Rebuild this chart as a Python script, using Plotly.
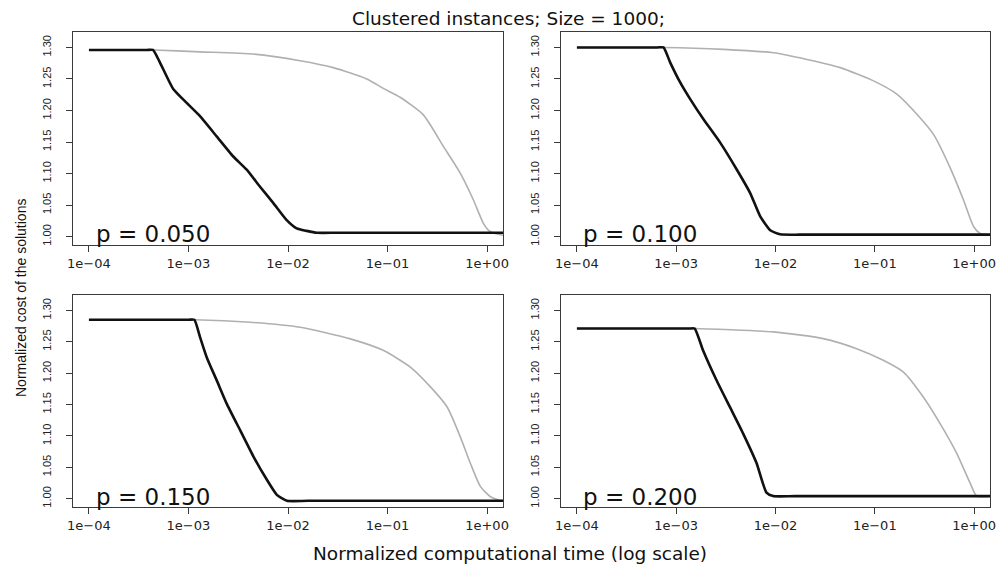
import numpy as np
import plotly.graph_objects as go

# ---------------- data ----------------
title_text = "Clustered instances; Size = 1000;"
x_title = "Normalized computational time (log scale)"
y_title = "Normalized cost of the solutions"
panel_labels = ["p = 0.050", "p = 0.100", "p = 0.150", "p = 0.200"]

x_tick_vals = [1e-4, 1e-3, 1e-2, 1e-1, 1e0]
x_tick_text = ["1e\u221204", "1e\u221203", "1e\u221202", "1e\u221201", "1e+00"]
y_tick_vals = [1.00, 1.05, 1.10, 1.15, 1.20, 1.25, 1.30]
y_tick_text = ["1.00", "1.05", "1.10", "1.15", "1.20", "1.25", "1.30"]

# log10(normalized time) and normalized cost, per panel
p050_black_logt = [-4.0, -3.42, -3.357, -3.286, -3.153, -3.018, -2.884, -2.717, -2.55, -2.415, -2.281, -2.147, -2.013, -1.913, -1.812, -1.712, -1.5, 0.16]
p050_black_cost = [1.296, 1.296, 1.296, 1.276, 1.234, 1.212, 1.191, 1.159, 1.127, 1.106, 1.079, 1.053, 1.026, 1.013, 1.009, 1.006, 1.006, 1.006]
p050_gray_logt = [-4.0, -3.42, -3.357, -2.884, -2.349, -1.879, -1.545, -1.209, -1.042, -0.874, -0.640, -0.439, -0.271, -0.137, -0.037, 0.03, 0.16]
p050_gray_cost = [1.296, 1.296, 1.296, 1.293, 1.2895, 1.279, 1.268, 1.250, 1.235, 1.221, 1.193, 1.143, 1.101, 1.058, 1.021, 1.008, 1.002]

p100_black_logt = [-4.0, -3.19, -3.128, -3.060, -2.960, -2.859, -2.725, -2.557, -2.389, -2.255, -2.154, -2.053, -1.953, -1.75, 0.16]
p100_black_cost = [1.300, 1.300, 1.300, 1.276, 1.2445, 1.218, 1.186, 1.149, 1.106, 1.069, 1.032, 1.010, 1.0035, 1.003, 1.003]
p100_gray_logt = [-4.0, -3.19, -3.128, -2.524, -2.02, -1.684, -1.348, -1.013, -0.778, -0.576, -0.409, -0.241, -0.107, -0.006, 0.061, 0.16]
p100_gray_cost = [1.300, 1.300, 1.300, 1.297, 1.2915, 1.281, 1.268, 1.247, 1.226, 1.194, 1.162, 1.109, 1.058, 1.016, 1.005, 1.003]

p150_black_logt = [-4.0, -3.0, -2.941, -2.883, -2.816, -2.715, -2.615, -2.481, -2.347, -2.212, -2.112, -2.011, -1.8, 0.16]
p150_black_cost = [1.285, 1.285, 1.285, 1.257, 1.225, 1.188, 1.151, 1.109, 1.067, 1.030, 1.006, 0.9965, 0.9965, 0.9965]
p150_gray_logt = [-4.0, -3.0, -2.941, -2.38, -1.877, -1.374, -1.039, -0.771, -0.569, -0.401, -0.268, -0.167, -0.066, 0.034, 0.135, 0.16]
p150_gray_cost = [1.285, 1.285, 1.285, 1.281, 1.273, 1.2546, 1.236, 1.2095, 1.178, 1.146, 1.098, 1.056, 1.019, 1.003, 0.997, 0.997]

p200_black_logt = [-4.0, -2.87, -2.814, -2.730, -2.595, -2.461, -2.327, -2.192, -2.091, -2.024, -1.8, 0.16]
p200_black_cost = [1.271, 1.271, 1.271, 1.2365, 1.189, 1.1465, 1.104, 1.057, 1.0095, 1.004, 1.004, 1.004]
p200_gray_logt = [-4.0, -2.87, -2.814, -2.024, -1.52, -1.183, -0.915, -0.714, -0.512, -0.344, -0.176, -0.041, 0.026, 0.16]
p200_gray_cost = [1.271, 1.271, 1.271, 1.2657, 1.255, 1.239, 1.2205, 1.202, 1.162, 1.120, 1.0725, 1.025, 1.004, 1.004]

panels = [
    (p050_black_logt, p050_black_cost, p050_gray_logt, p050_gray_cost),
    (p100_black_logt, p100_black_cost, p100_gray_logt, p100_gray_cost),
    (p150_black_logt, p150_black_cost, p150_gray_logt, p150_gray_cost),
    (p200_black_logt, p200_black_cost, p200_gray_logt, p200_gray_cost),
]

# ---------------- layout geometry ----------------
W, H = 999, 565
x_domains = [[73 / W, 503 / W], [561 / W, 990 / W]]
y_domains = [[1 - 245 / H, 1 - 32 / H], [1 - 507 / H, 1 - 295 / H]]
X_RANGE = [-4.16, 0.16]
Y_RANGE = [0.9866, 1.3245]
FRAME = "#3a3a3a"

fig = go.Figure()
layout = dict(
    width=W, height=H, autosize=False,
    margin=dict(l=0, r=0, t=0, b=0),
    paper_bgcolor="white", plot_bgcolor="white",
    showlegend=False,
)

annotations = []
for i, (bx, by, gx, gy) in enumerate(panels):
    row, col = divmod(i, 2)
    sfx = "" if i == 0 else str(i + 1)
    xa, ya = "x" + sfx, "y" + sfx
    fig.add_trace(go.Scatter(x=np.power(10.0, gx), y=gy, mode="lines",
                             line=dict(color="#b0b0b0", width=1.6, shape="spline", smoothing=0.6),
                             xaxis=xa, yaxis=ya, hoverinfo="skip"))
    fig.add_trace(go.Scatter(x=np.power(10.0, bx), y=by, mode="lines",
                             line=dict(color="#111111", width=2.6, shape="spline", smoothing=0.5),
                             xaxis=xa, yaxis=ya, hoverinfo="skip"))
    layout["xaxis" + sfx] = dict(
        type="log", range=X_RANGE, domain=x_domains[col], anchor=ya,
        tickmode="array", tickvals=x_tick_vals, ticktext=x_tick_text,
        ticks="outside", ticklen=6, tickwidth=1, tickcolor=FRAME,
        showline=True, mirror=True, linecolor=FRAME, linewidth=1,
        showgrid=False, zeroline=False, automargin=False,
        tickfont=dict(family="DejaVu Sans", size=13, color="#222222"),
    )
    layout["yaxis" + sfx] = dict(
        range=Y_RANGE, domain=y_domains[row], anchor=xa,
        tickmode="array", tickvals=y_tick_vals, ticktext=y_tick_text,
        tickangle=-90, ticks="outside", ticklen=6, tickwidth=1, tickcolor=FRAME,
        ticklabelstandoff=11,
        showline=True, mirror=True, linecolor=FRAME, linewidth=1,
        showgrid=False, zeroline=False, automargin=False,
        tickfont=dict(family="Liberation Sans", size=11, color="#222222"),
    )
    label_x = [94 / W, 581 / W][col]
    label_y = [1 - 234 / H, 1 - 497 / H][row]
    annotations.append(dict(
        text=panel_labels[i], x=label_x, y=label_y, xref="paper", yref="paper",
        xanchor="left", yanchor="middle", showarrow=False,
        font=dict(family="DejaVu Sans", size=23, color="#111111"),
    ))

annotations.append(dict(
    text=title_text, x=508 / W, y=1 - 19 / H, xref="paper", yref="paper",
    xanchor="center", yanchor="middle", showarrow=False,
    font=dict(family="DejaVu Sans", size=18.5, color="#111111"),
))
annotations.append(dict(
    text=x_title, x=510 / W, y=1 - 553 / H, xref="paper", yref="paper",
    xanchor="center", yanchor="middle", showarrow=False,
    font=dict(family="DejaVu Sans", size=18.5, color="#111111"),
))
annotations.append(dict(
    text=y_title, x=21 / W, y=1 - 298 / H, xref="paper", yref="paper",
    xanchor="center", yanchor="middle", showarrow=False, textangle=-90,
    font=dict(family="Liberation Sans", size=14, color="#111111"),
))
layout["annotations"] = annotations

fig.update_layout(**layout)
fig.write_html("out.html")
